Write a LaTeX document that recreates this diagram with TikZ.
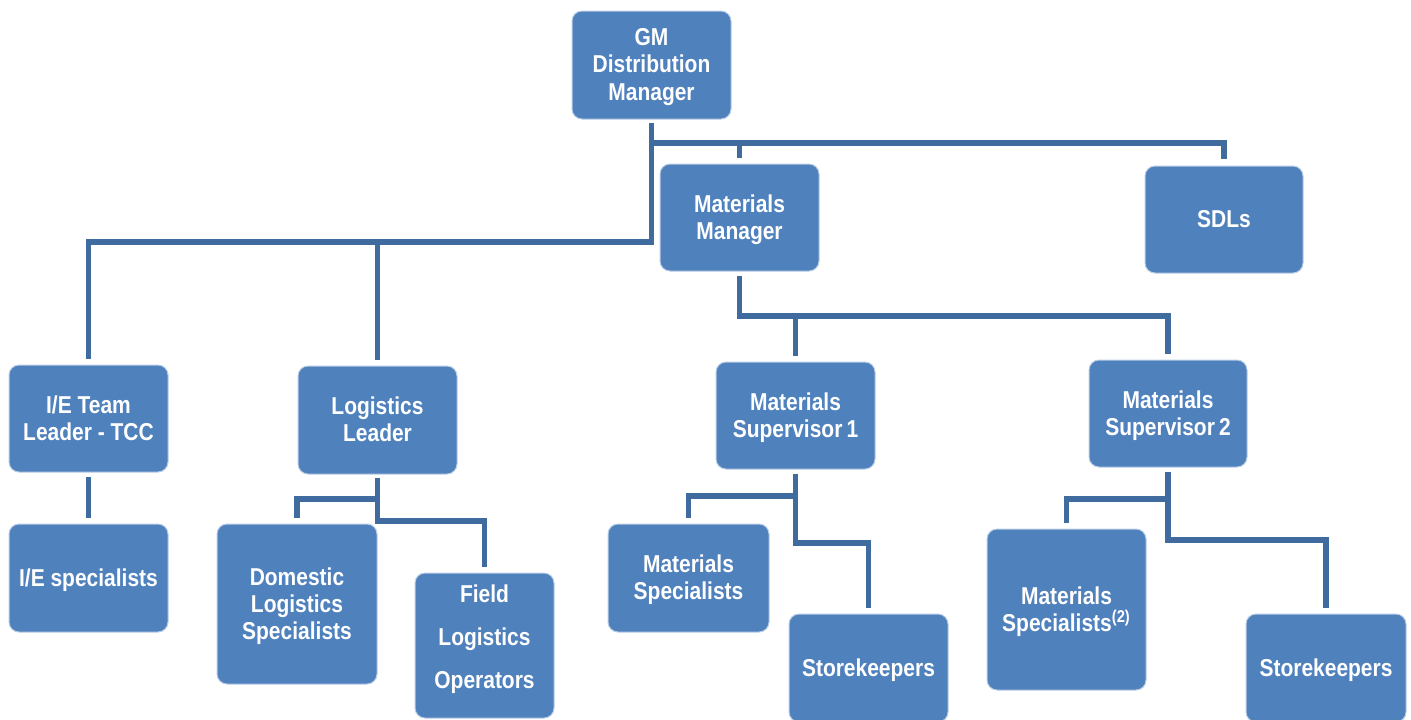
\documentclass[tikz,border=0pt]{standalone}
\usepackage{fontspec}
\setmainfont{Liberation Sans}[FakeStretch=0.86]
\definecolor{boxfill}{HTML}{4F81BD}
\definecolor{boxedge}{HTML}{B9CDE5}
\definecolor{linkcol}{HTML}{3F6B9F}
\tikzset{
  unit/.style={rectangle, rounded corners=5pt, fill=boxfill, draw=boxedge,
    line width=0.5pt, text=white, align=center,
    font=\fontsize{12.2pt}{13.6pt}\selectfont\bfseries, inner sep=0pt,
    text depth=0.6pt},
  conn/.style={draw=linkcol, line width=2.6pt},
}
\begin{document}
\begin{tikzpicture}[x=0.5pt, y=-0.5pt]
\useasboundingbox (0,0) rectangle (1411,719);

% boxes
\node[unit, minimum width=79.5pt, minimum height=54pt] (gm) at (651.5,65) {GM\\Distribution\\Manager};
\node[unit, minimum width=79.5pt, minimum height=53.5pt] (mm) at (739.5,217.5) {Materials\\Manager};
\node[unit, minimum width=79pt, minimum height=53.5pt] (sdl) at (1224,219.5) {SDLs};
\node[unit, minimum width=79.5pt, minimum height=53.5pt] (ie) at (88.5,418.5) {I/E Team\\Leader - TCC};
\node[unit, minimum width=79.5pt, minimum height=54pt] (ll) at (377.5,420) {Logistics\\Leader};
\node[unit, minimum width=79.5pt, minimum height=54pt] (iesp) at (88.5,578) {I/E specialists};
\node[unit, minimum width=80pt, minimum height=80pt] (dom) at (297,604) {Domestic\\Logistics\\Specialists};
\node[unit, minimum width=69.5pt, minimum height=72.5pt,
  label={[text=white, align=center, font=\fontsize{12.2pt}{21.5pt}\selectfont\bfseries, yshift=3pt]center:Field\\Logistics\\Operators}] (field) at (484.5,645.5) {};
\node[unit, minimum width=79.5pt, minimum height=53.5pt] (ms1) at (795.5,415.5) {Materials\\Supervisor\,1};
\node[unit, minimum width=79pt, minimum height=53.5pt] (ms2) at (1168,413.5) {Materials\\Supervisor\,2};
\node[unit, minimum width=80.5pt, minimum height=54pt] (msp1) at (688.5,578) {Materials\\Specialists};
\node[unit, minimum width=79.5pt, minimum height=54pt] (sk1) at (868.5,668) {Storekeepers};
\node[unit, minimum width=79.5pt, minimum height=80.5pt] (msp2) at (1066.5,609.5) {Materials\\Specialists\textsuperscript{(2)}};
\node[unit, minimum width=80pt, minimum height=54pt] (sk2) at (1326,668) {Storekeepers};

% GM branches
\draw[conn] ([yshift=-1.5pt]gm.south) -- (gm.south |- 0,242) -| ([yshift=3pt]ie.north);
\draw[conn] (ll.north |- 0,242) -- ([yshift=3pt]ll.north);
\draw[conn] (gm.south |- 0,143) -| ([yshift=3.5pt]sdl.north);
\draw[conn] (mm.north |- 0,143) -- ([yshift=3pt]mm.north);

% Materials Manager branches
\draw[conn] ([yshift=-2pt]mm.south) -- (mm.south |- 0,316) -| ([yshift=3pt]ms2.north);
\draw[conn] (ms1.north |- 0,316) -- ([yshift=3pt]ms1.north);

% I/E team
\draw[conn] ([yshift=-2pt]ie.south) -- ([yshift=3pt]iesp.north);

% Logistics Leader
\draw[conn] ([yshift=-1.5pt]ll.south) -- (ll.south |- 0,521) -| ([yshift=3pt]field.north);
\draw[conn] (ll.south |- 0,499) -| ([yshift=3pt]dom.north);

% Materials Supervisor 1
\draw[conn] ([yshift=-2pt]ms1.south) -- (ms1.south |- 0,543) -| ([yshift=3pt]sk1.north);
\draw[conn] (ms1.south |- 0,496) -| ([yshift=3pt]msp1.north);

% Materials Supervisor 2
\draw[conn] ([yshift=-2pt]ms2.south) -- (ms2.south |- 0,540) -| ([yshift=3pt]sk2.north);
\draw[conn] (ms2.south |- 0,499) -| ([yshift=3pt]msp2.north);
\end{tikzpicture}
\end{document}
